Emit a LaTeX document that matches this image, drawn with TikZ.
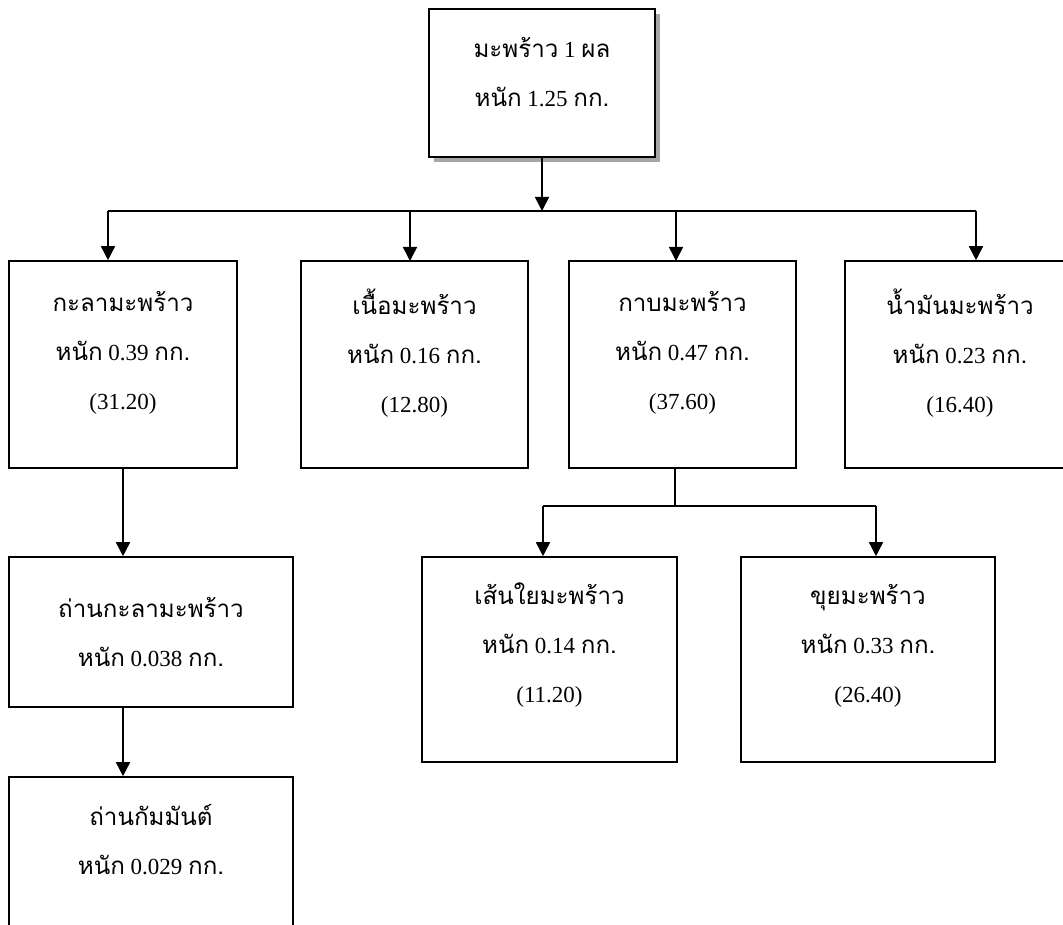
\documentclass[tikz,border=0pt]{standalone}
\usepackage{fontspec}
\setmainfont{Liberation Serif}
\newfontfamily\thaifont[Script=Thai,Scale=1.05]{Loma}
\newcommand\tf[1]{{\thaifont #1}}
\usetikzlibrary{arrows.meta}
\tikzset{
  box/.style={draw=black, line width=1.6pt, fill=white, inner sep=0pt},
  txt/.style={align=center, inner sep=0pt, font=\fontsize{23}{49}\selectfont},
  conn/.style={line width=1.6pt},
  arr/.style={conn, -{Triangle[width=14pt,length=14pt]}}
}
\begin{document}
\begin{tikzpicture}[x=1pt,y=-1pt]
\useasboundingbox (0,0) rectangle (1063,925);
\clip (0,0) rectangle (1063,925);
\fill[white] (0,0) rectangle (1063,925);
% top box with shadow
\fill[gray!70] (434,14) rectangle (660,162);
\node[box, minimum width=226pt, minimum height=148pt] (top) at (542,83) {};
\node[txt] (ttop) at (542,72.5) {\tf{มะพร้าว} 1 \tf{ผล}\\\tf{หนัก} 1.25 \tf{กก.}};
% row 1
\node[box, minimum width=228pt, minimum height=207pt] (b1) at (123,364.5) {};
\node[txt] (t1) at (123,353) {\tf{กะลามะพร้าว}\\\tf{หนัก} 0.39 \tf{กก.}\\(31.20)};
\node[box, minimum width=227pt, minimum height=207pt] (b2) at (414.5,364.5) {};
\node[txt] (t2) at (414.5,353) {\tf{เนื้อมะพร้าว}\\\tf{หนัก} 0.16 \tf{กก.}\\(12.80)};
\node[box, minimum width=227pt, minimum height=207pt] (b3) at (682.5,364.5) {};
\node[txt] (t3) at (682.5,353) {\tf{กาบมะพร้าว}\\\tf{หนัก} 0.47 \tf{กก.}\\(37.60)};
\node[box, minimum width=230pt, minimum height=207pt] (b4) at (960,364.5) {};
\node[txt] (t4) at (960,353) {\tf{น้ำมันมะพร้าว}\\\tf{หนัก} 0.23 \tf{กก.}\\(16.40)};
% left column
\node[box, minimum width=284pt, minimum height=150pt] (b5) at (151,632) {};
\node[txt] (t5) at (151,632) {\tf{ถ่านกะลามะพร้าว}\\\tf{หนัก} 0.038 \tf{กก.}};
\node[box, minimum width=284pt, minimum height=170pt] (b6) at (151,862) {};
\node[txt] (t6) at (151,840) {\tf{ถ่านกัมมันต์}\\\tf{หนัก} 0.029 \tf{กก.}};
% fibres
\node[box, minimum width=255pt, minimum height=205pt] (b7) at (549.5,659.5) {};
\node[txt] (t7) at (549.5,645.5) {\tf{เส้นใยมะพร้าว}\\\tf{หนัก} 0.14 \tf{กก.}\\(11.20)};
\node[box, minimum width=254pt, minimum height=205pt] (b8) at (868,659.5) {};
\node[txt] (t8) at (868,645.5) {\tf{ขุยมะพร้าว}\\\tf{หนัก} 0.33 \tf{กก.}\\(26.40)};
% connectors
\coordinate (busL) at (108,211);
\coordinate (busR) at (976,211);
\coordinate (busM) at (top.south |- busL);
\draw[arr] (top.south) -- (busM);
\draw[conn] (busL) -- (busR);
\draw[arr] (busL) -- (busL |- b1.north);
\draw[arr] (410,211) -- (410,261);
\draw[arr] (676,211) -- (676,261);
\draw[arr] (busR) -- (busR |- b4.north);
\draw[arr] (b1.south) -- (b1.south |- b5.north);
\draw[arr] (b5.south -| b1.south) -- (b1.south |- b6.north);
\coordinate (fork) at (675,506);
\coordinate (forkL) at (543,506);
\coordinate (forkR) at (876,506);
\draw[conn] (b3.south -| fork) -- (fork);
\draw[conn] (forkL) -- (forkR);
\draw[arr] (forkL) -- (forkL |- b7.north);
\draw[arr] (forkR) -- (forkR |- b8.north);
\end{tikzpicture}
\end{document}
